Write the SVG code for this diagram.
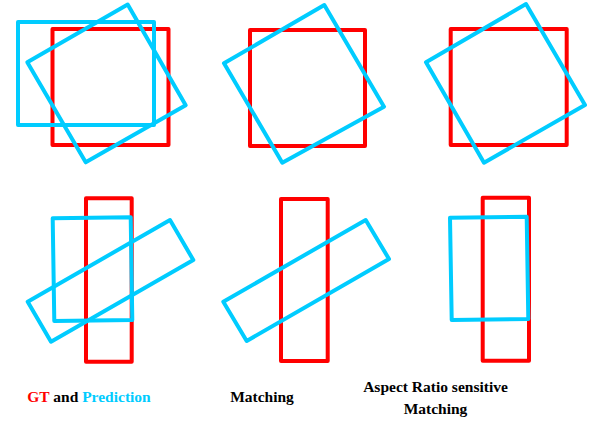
<svg xmlns="http://www.w3.org/2000/svg" width="608" height="424" viewBox="0 0 608 424">
<style>
.gt{fill:none;stroke:#ff0000;stroke-width:4;stroke-linejoin:round}
.pr{fill:none;stroke:#00ccff;stroke-width:4;stroke-linejoin:round}
.lb{font-family:"Liberation Serif","Times New Roman",serif;font-weight:bold;font-size:15.5px;fill:#000;text-anchor:middle}
</style>
<rect width="608" height="424" fill="#fff"/>
<g id="panel-gt-prediction-square">
<rect class="gt" x="52.5" y="29" width="116" height="116"/>
<rect class="pr" x="18" y="22" width="136" height="103"/>
<polygon class="pr" points="127.7,4.5 185.7,105.3 85.7,162.3 27.3,62.3"/>
</g>
<g id="panel-matching-square">
<rect class="gt" x="250" y="30" width="115" height="116"/>
<polygon class="pr" points="324.3,5 384,106.7 282.3,162.7 224,63.3"/>
</g>
<g id="panel-ar-square">
<rect class="gt" x="450.7" y="29" width="116" height="116"/>
<polygon class="pr" points="526,4 585,105 484,162.7 426,62.3"/>
</g>
<g id="panel-gt-prediction-rect">
<rect class="gt" x="86" y="198.3" width="45.7" height="163.4"/>
<polygon class="pr" points="52.7,218.3 130.7,217.3 132.3,320 54.3,321"/>
<polygon class="pr" points="170,220 193.3,260 51,341.7 27.7,301.7"/>
</g>
<g id="panel-matching-rect">
<rect class="gt" x="281" y="199" width="46.7" height="162"/>
<polygon class="pr" points="365.7,220 389,259 246.7,341 223.3,301.7"/>
</g>
<g id="panel-ar-rect">
<rect class="gt" x="482.7" y="197.7" width="46.3" height="163"/>
<polygon class="pr" points="450,217.7 526.7,216.7 528.3,319 451.7,320"/>
</g>
<g id="connectors"></g>
<g id="labels">
<text class="lb" x="89" y="401.5"><tspan fill="#ff0000">GT</tspan> and <tspan fill="#00ccff">Prediction</tspan></text>
<text class="lb" x="262" y="402">Matching</text>
<text class="lb" x="435.5" y="391.5">Aspect Ratio sensitive</text>
<text class="lb" x="435.5" y="414">Matching</text>
</g>
</svg>
